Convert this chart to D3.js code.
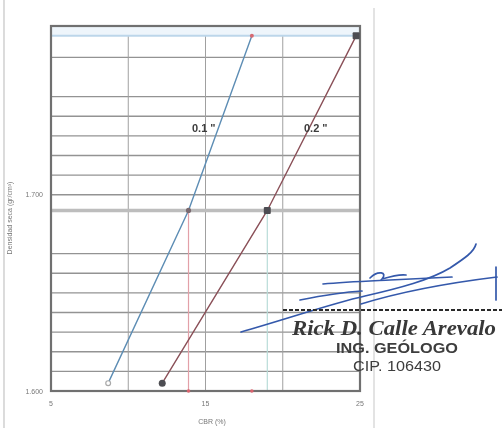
<!DOCTYPE html>
<html>
<head>
<meta charset="utf-8">
<script src="https://cdn.jsdelivr.net/npm/d3@7"></script>
<style>
  html, body { margin: 0; padding: 0; background: #fff; }
  svg { display: block; }
</style>
</head>
<body>
<svg id="chart" width="502" height="428"></svg>
<script>
// Dry density of the three compacted specimens (g/cm³) and CBR values
const density = [1.781, 1.692, 1.604];
const cbr01 = [18.0, 13.9, 8.7];     // penetration 0.1"
const cbr02 = [24.75, 19.0, 12.2];   // penetration 0.2"
const seriesNames = ['0.1 "', '0.2 "'];

// Reference densities: maximum dry density and 95 % of it
const mdd = 1.781;
const mdd95 = 1.692;

// CBR values marked on the horizontal axis
const axisMarks = [13.9, 18.0];

// Axes ticks and grid
const xTicks = [5, 15, 25];
const xGrid = [10, 15, 20];
const yTicks = [1.6, 1.7];
const yGrid = [1.61, 1.62, 1.63, 1.64, 1.65, 1.66, 1.67, 1.70, 1.71, 1.72, 1.73, 1.74, 1.75, 1.77];

const svg = d3.select('#chart');
const defs = svg.append('defs');
defs.append('filter').attr('id', 'soft')
  .append('feGaussianBlur').attr('stdDeviation', 0.45);

const root = svg.append('g').attr('filter', 'url(#soft)');

// page border lines of the report sheet
root.append('line').attr('x1', 4).attr('x2', 4).attr('y1', 0).attr('y2', 428)
  .attr('stroke', '#c4c4c4').attr('stroke-width', 1.2);
root.append('line').attr('x1', 374).attr('x2', 374).attr('y1', 8).attr('y2', 428)
  .attr('stroke', '#d0d0d0').attr('stroke-width', 1.2);

const x = d3.scaleLinear().domain([5, 25]).range([51, 360]);
const y = d3.scaleLinear().domain([1.6, 1.786]).range([391, 26]);

const plot = root.append('g');

// horizontal grid
plot.selectAll('.hg').data(yGrid).enter().append('line')
  .attr('x1', x(5)).attr('x2', x(25))
  .attr('y1', d => y(d)).attr('y2', d => y(d))
  .attr('stroke', '#939393').attr('stroke-width', 1.3);

// vertical grid
plot.selectAll('.vg').data(xGrid).enter().append('line')
  .attr('x1', d => x(d)).attr('x2', d => x(d))
  .attr('y1', y(1.786)).attr('y2', y(1.6))
  .attr('stroke', '#a0a0a0').attr('stroke-width', 1);

// maximum dry density line
plot.append('rect')
  .attr('x', x(5)).attr('y', y(1.786)).attr('width', x(25) - x(5)).attr('height', y(mdd) - y(1.786))
  .attr('fill', '#eef5fb');
plot.append('line')
  .attr('x1', x(5)).attr('x2', x(25)).attr('y1', y(mdd)).attr('y2', y(mdd))
  .attr('stroke', '#bcd6ea').attr('stroke-width', 2);

// 95 % MDD line
plot.append('line')
  .attr('x1', x(5)).attr('x2', x(25)).attr('y1', y(mdd95)).attr('y2', y(mdd95))
  .attr('stroke', '#bdbdbd').attr('stroke-width', 3.5);

// drop lines from the 95 % intersections
plot.append('line')
  .attr('x1', x(cbr01[1])).attr('x2', x(cbr01[1])).attr('y1', y(mdd95)).attr('y2', y(1.6))
  .attr('stroke', '#e3a0a8').attr('stroke-width', 1.2);
plot.append('line')
  .attr('x1', x(cbr02[1])).attr('x2', x(cbr02[1])).attr('y1', y(mdd95)).attr('y2', y(1.6))
  .attr('stroke', '#b8dcd8').attr('stroke-width', 1.2);

// frame
plot.append('rect')
  .attr('x', x(5)).attr('y', y(1.786))
  .attr('width', x(25) - x(5)).attr('height', y(1.6) - y(1.786))
  .attr('fill', 'none').attr('stroke', '#6f6f6f').attr('stroke-width', 2.2);

// CBR curves
const line = d3.line().x(d => x(d[0])).y(d => y(d[1]));
const pts01 = cbr01.map((c, i) => [c, density[i]]);
const pts02 = cbr02.map((c, i) => [c, density[i]]);

plot.append('path').attr('d', line(pts01))
  .attr('fill', 'none').attr('stroke', '#5d8db4').attr('stroke-width', 1.4);
plot.append('path').attr('d', line(pts02))
  .attr('fill', 'none').attr('stroke', '#8a5058').attr('stroke-width', 1.4);

// markers 0.1"
plot.append('circle').attr('cx', x(pts01[0][0])).attr('cy', y(pts01[0][1])).attr('r', 2)
  .attr('fill', '#d66a72');
plot.append('circle').attr('cx', x(pts01[1][0])).attr('cy', y(pts01[1][1])).attr('r', 2.6)
  .attr('fill', '#7a6a70');
plot.append('circle').attr('cx', x(pts01[2][0])).attr('cy', y(pts01[2][1])).attr('r', 2.4)
  .attr('fill', '#fff').attr('stroke', '#a9a9a9').attr('stroke-width', 1.2);

// markers 0.2"
plot.selectAll('.m2').data(pts02).enter().append('rect')
  .attr('x', d => x(d[0]) - 3.5).attr('y', d => y(d[1]) - 3.5)
  .attr('width', 7).attr('height', 7).attr('rx', (d, i) => i === 2 ? 3.5 : 1)
  .attr('fill', '#4e4e52');

// CBR marks on the x axis
plot.selectAll('.am').data(axisMarks).enter().append('circle')
  .attr('cx', d => x(d)).attr('cy', y(1.6)).attr('r', 1.8)
  .attr('fill', '#d9646e');

// series labels
plot.append('text').attr('x', 192).attr('y', 132).text(seriesNames[0])
  .attr('font-family', 'Liberation Sans, Arial, sans-serif').attr('font-weight', 'bold')
  .attr('font-size', 11).attr('fill', '#3c3c3c');
plot.append('text').attr('x', 304).attr('y', 132).text(seriesNames[1])
  .attr('font-family', 'Liberation Sans, Arial, sans-serif').attr('font-weight', 'bold')
  .attr('font-size', 11).attr('fill', '#3c3c3c');

// tick labels
const tickFont = 'Liberation Sans, Arial, sans-serif';
plot.selectAll('.xt').data(xTicks).enter().append('text')
  .attr('x', d => x(d)).attr('y', 406).attr('text-anchor', 'middle')
  .attr('font-family', tickFont).attr('font-size', 7).attr('fill', '#777')
  .text(d => d3.format('d')(d));
plot.selectAll('.yt').data(yTicks).enter().append('text')
  .attr('x', 43).attr('y', d => y(d) + 2.5).attr('text-anchor', 'end')
  .attr('font-family', tickFont).attr('font-size', 7).attr('fill', '#777')
  .text(d => d3.format('.3f')(d));

// axis titles
plot.append('text').attr('x', 212).attr('y', 424).attr('text-anchor', 'middle')
  .attr('font-family', tickFont).attr('font-size', 7).attr('fill', '#777')
  .text('CBR (%)');
plot.append('text')
  .attr('transform', 'translate(12,218) rotate(-90)')
  .attr('text-anchor', 'middle')
  .attr('font-family', tickFont).attr('font-size', 7).attr('fill', '#777')
  .text('Densidad seca (gr/cm³)');

// signature stamp
const stamp = root.append('g');
const ink = '#3459ab';
[
  'M241,332 C290,318 330,304 365,296 C400,288 430,280 450,268 C465,258 474,252 476,244',
  'M323,284 C345,282 370,281 390,280 C410,279 430,278 452,277',
  'M361,304 C400,292 440,284 497,277',
  'M370,278 C378,270 388,272 382,279 C392,276 400,274 406,275',
  'M300,300 C320,296 345,292 362,291',
  'M496,267 L496,300'
].forEach(d => stamp.append('path').attr('d', d)
  .attr('fill', 'none').attr('stroke', ink).attr('stroke-width', 1.7).attr('stroke-linecap', 'round'));

stamp.append('line').attr('x1', 283).attr('x2', 502).attr('y1', 310).attr('y2', 310)
  .attr('stroke', '#2a2a2a').attr('stroke-width', 2.2).attr('stroke-dasharray', '4,2');

stamp.append('text').attr('x', 292).attr('y', 335)
  .attr('textLength', 204).attr('lengthAdjust', 'spacingAndGlyphs')
  .attr('font-family', 'Liberation Serif, serif').attr('font-style', 'italic').attr('font-weight', 'bold')
  .attr('font-size', 21).attr('fill', '#383838')
  .text('Rick D. Calle Arevalo');
stamp.append('text').attr('x', 397).attr('y', 353).attr('text-anchor', 'middle')
  .attr('textLength', 122).attr('lengthAdjust', 'spacingAndGlyphs')
  .attr('font-family', 'Liberation Sans, Arial, sans-serif').attr('font-weight', 'bold')
  .attr('font-size', 14).attr('fill', '#3d3d3d')
  .text('ING. GEÓLOGO');
stamp.append('text').attr('x', 397).attr('y', 371).attr('text-anchor', 'middle')
  .attr('textLength', 88).attr('lengthAdjust', 'spacingAndGlyphs')
  .attr('font-family', 'Liberation Sans, Arial, sans-serif')
  .attr('font-size', 14).attr('fill', '#3d3d3d')
  .text('CIP. 106430');
</script>
</body>
</html>
